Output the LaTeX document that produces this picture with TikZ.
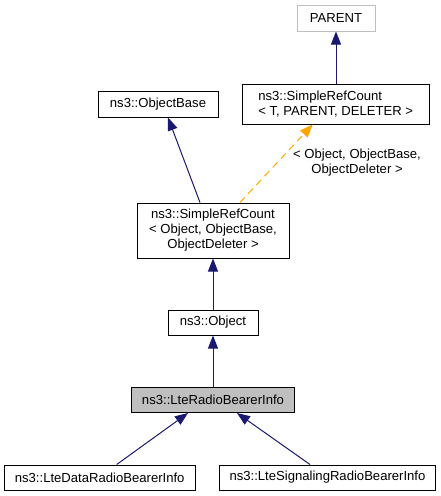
\documentclass[tikz,border=0pt]{standalone}
\usepackage{fontspec}
\setmainfont{Liberation Sans}
\usetikzlibrary{arrows.meta}
\definecolor{navy}{HTML}{191970}
\definecolor{edgeorange}{HTML}{FFA500}
\definecolor{lightborder}{HTML}{BFBFBF}
\definecolor{hlfill}{HTML}{BFBFBF}
\tikzset{
  cls/.style={draw=black, line width=1pt, fill=white, rectangle, inner sep=0pt, font=\fontsize{13.1}{15}\selectfont},
  inh/.style={draw=navy, line width=1pt, -{Triangle[length=13pt,width=10pt,fill=navy]}},
  tmpl/.style={draw=edgeorange, line width=1pt, dash pattern=on 7pt off 5pt, -{Triangle[length=13pt,width=10pt,fill=edgeorange]}},
  lbl/.style={font=\fontsize{13.1}{15}\selectfont, align=center, inner sep=0pt}
}
\begin{document}
\begin{tikzpicture}[x=1pt,y=-1pt]
\useasboundingbox (0,0) rectangle (441,496);
\node[cls, draw=lightborder, minimum width=78pt, minimum height=26pt] (parent) at (336,18) {PARENT};
\node[cls, minimum width=187pt, minimum height=40pt, align=left] (srcT) at (335.7,104) {ns3::SimpleRefCount\\< T, PARENT, DELETER >};
\node[cls, minimum width=120pt, minimum height=26pt] (obase) at (158,104) {ns3::ObjectBase};
\node[cls, minimum width=152pt, minimum height=55pt, align=center] (srcO) at (213,230.5) {ns3::SimpleRefCount\\< Object, ObjectBase,\\ObjectDeleter >};
\node[cls, minimum width=90pt, minimum height=25pt] (obj) at (213,322.5) {ns3::Object};
\node[cls, fill=hlfill, minimum width=163pt, minimum height=25pt] (lrbi) at (213,400) {ns3::LteRadioBearerInfo};
\node[cls, minimum width=191pt, minimum height=25pt] (ldata) at (99.7,477.5) {ns3::LteDataRadioBearerInfo};
\node[cls, minimum width=216pt, minimum height=25pt] (lsig) at (327.5,477.5) {ns3::LteSignalingRadioBearerInfo};

\draw[inh] (srcT.north -| parent.south) -- (parent.south);
\draw[inh] ([xshift=-13pt]srcO.north) -- ([xshift=10pt]obase.south);
\draw[tmpl] ([xshift=27pt]srcO.north) -- ([xshift=-23pt]srcT.south);
\node[lbl] (tlabel) at (357,163) {< Object, ObjectBase,\\ObjectDeleter >};
\draw[inh] (obj.north) -- (srcO.south);
\draw[inh] (lrbi.north) -- (obj.south);
\draw[inh] ([xshift=17pt]ldata.north) -- ([xshift=-25pt]lrbi.south);
\draw[inh] ([xshift=-17.5pt]lsig.north) -- ([xshift=24pt]lrbi.south);
\end{tikzpicture}
\end{document}
